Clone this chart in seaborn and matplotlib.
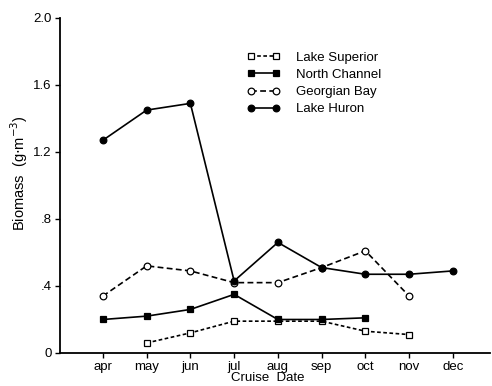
import matplotlib
matplotlib.use("Agg")
import matplotlib.pyplot as plt
import seaborn as sns
import pandas as pd
import numpy as np

months = ["apr", "may", "jun", "jul", "aug", "sep", "oct", "nov", "dec"]

superior_months = ["may", "jun", "jul", "aug", "sep", "oct", "nov"]
superior_vals = [0.06, 0.12, 0.19, 0.19, 0.19, 0.13, 0.11]

north_months = ["apr", "may", "jun", "jul", "aug", "sep", "oct"]
north_vals = [0.20, 0.22, 0.26, 0.35, 0.20, 0.20, 0.21]

georgian_months = ["apr", "may", "jun", "jul", "aug", "sep", "oct", "nov"]
georgian_vals = [0.34, 0.52, 0.49, 0.42, 0.42, 0.51, 0.61, 0.34]

huron_months = ["apr", "may", "jun", "jul", "aug", "sep", "oct", "nov", "dec"]
huron_vals = [1.27, 1.45, 1.49, 0.43, 0.66, 0.51, 0.47, 0.47, 0.49]

y_ticks = [0, 0.4, 0.8, 1.2, 1.6, 2.0]
y_tick_labels = ["0", ".4", ".8", "1.2", "1.6", "2.0"]

sns.set_theme(style="ticks")
plt.rcParams["font.family"] = ["Liberation Sans", "DejaVu Sans"]

fig = plt.figure(figsize=(4.92, 3.86), dpi=100)
ax = fig.add_axes([0.122, 0.0855, 0.874, 0.868])

series = [
    ("Lake Superior", superior_months, superior_vals, "s", "none", (0, (2.2, 1.5))),
    ("North Channel", north_months, north_vals, "s", "black", "-"),
    ("Georgian Bay", georgian_months, georgian_vals, "o", "none", (0, (3.5, 2))),
    ("Lake Huron", huron_months, huron_vals, "o", "black", "-"),
]

for name, ms, vals, mk, fc, ls in series:
    df = pd.DataFrame({"x": [months.index(m) for m in ms], "y": vals})
    sns.lineplot(data=df, x="x", y="y", ax=ax, color="black", marker=mk,
                 markersize=4.8, markerfacecolor=fc if fc != "none" else "white",
                 markeredgecolor="black", markeredgewidth=0.9,
                 linewidth=1.2, linestyle=ls, label=name)

fs = 9.5
ax.set_xlim(-0.98, 8.85)
ax.set_ylim(0, 2.0)
ax.set_xticks(range(len(months)))
ax.set_xticklabels(months, fontsize=fs, color="black")
ax.set_yticks(y_ticks)
ax.set_yticklabels(y_tick_labels, fontsize=fs, color="black")
ax.tick_params(direction="out", length=3.5, width=1.0, colors="black", pad=2.5)
ax.set_xlabel("Cruise  Date", fontsize=fs, color="black")
ax.set_ylabel("Biomass  (g$\\cdot$m$^{-3}$)", fontsize=fs + 1, color="black")
ax.xaxis.set_label_coords(0.484, -0.058)
ax.yaxis.set_label_coords(-0.07, 0.537)
for s in ["top", "right"]:
    ax.spines[s].set_visible(False)
for s in ["left", "bottom"]:
    ax.spines[s].set_linewidth(1.3)
    ax.spines[s].set_color("black")

leg = ax.legend(loc="upper left", bbox_to_anchor=(0.435, 0.9), frameon=False,
                fontsize=fs, handlelength=2.5, handletextpad=1.2,
                labelspacing=0.38, numpoints=2, borderpad=0, borderaxespad=0)
for t in leg.get_texts():
    t.set_color("black")

fig.savefig("out.png", dpi=100)
